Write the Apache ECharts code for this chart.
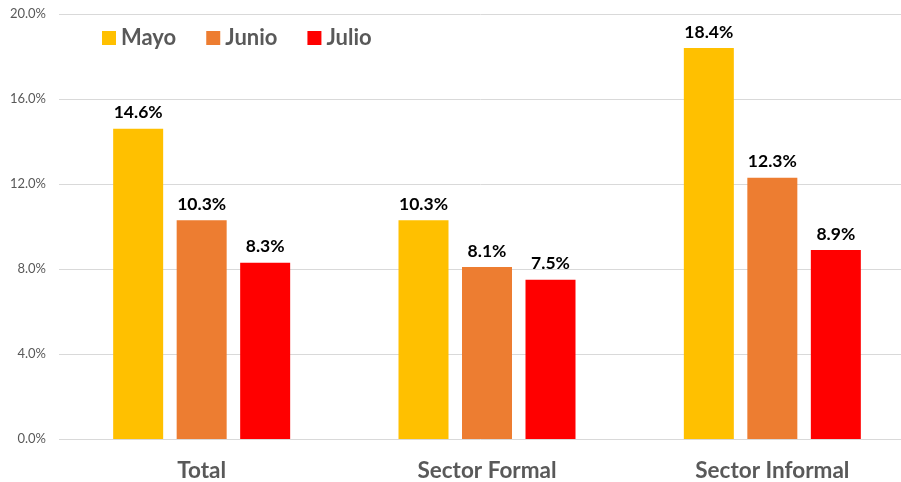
<!DOCTYPE html>
<html><head><meta charset="utf-8">
<script src="https://cdn.jsdelivr.net/npm/echarts@6/dist/echarts.min.js"></script>
<style>html,body{margin:0;padding:0;background:#fff}#c{width:901px;height:482px}</style>
</head><body><div id="c"></div>
<script>
const categories = ['Total', 'Sector Formal', 'Sector Informal'];
const mayo = [14.6, 10.3, 18.4];
const junio = [10.3, 8.1, 12.3];
const julio = [8.3, 7.5, 8.9];
const seriesNames = ['Mayo', 'Junio', 'Julio'];
const colors = ['#FFC000', '#ED7D31', '#FF0000'];
const yTicks = { min: 0, max: 20, interval: 4 };

const font = 'Lato, "Noto Sans", sans-serif';
const chart = echarts.init(document.getElementById('c'), null, { renderer: 'canvas' });
const mk = (name, data, color) => ({
  name, type: 'bar', data, barWidth: 50, barGap: '27%',
  itemStyle: { color },
  label: { show: true, position: 'top', distance: 7, formatter: p => p.value.toFixed(1) + '%',
    fontFamily: font, fontWeight: 'bold', fontSize: 17.5, color: '#000' }
});
chart.setOption({
  animation: false,
  textStyle: { fontFamily: font },
  grid: { left: 59, width: 856, top: 14, bottom: 43, containLabel: false, outerBoundsMode: 'none' },
  legend: {
    left: 97, top: 22, itemWidth: 14, itemHeight: 14, itemGap: 30, icon: 'rect',
    textStyle: { fontFamily: font, fontSize: 22, fontWeight: 'bold', color: '#595959' },
    data: seriesNames
  },
  xAxis: {
    type: 'category', data: categories,
    axisLine: { show: false }, axisTick: { show: false },
    axisLabel: { margin: 20, fontFamily: font, fontSize: 22.5, fontWeight: 'bold', color: '#595959' }
  },
  yAxis: {
    type: 'value', min: yTicks.min, max: yTicks.max, interval: yTicks.interval,
    axisLine: { show: false }, axisTick: { show: false },
    splitLine: { lineStyle: { color: '#D9D9D9', width: 1 } },
    axisLabel: { margin: 13, fontFamily: font, fontSize: 13, color: '#595959', formatter: v => v.toFixed(1) + '%' }
  },
  series: [mk(seriesNames[0], mayo, colors[0]), mk(seriesNames[1], junio, colors[1]), mk(seriesNames[2], julio, colors[2])]
});
</script></body></html>
